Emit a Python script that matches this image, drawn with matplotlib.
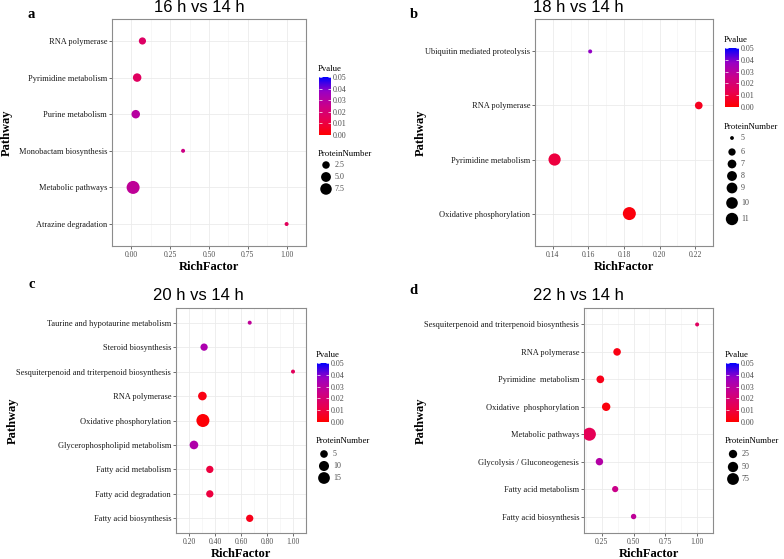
import numpy as np
import matplotlib
matplotlib.use("Agg")
import matplotlib.pyplot as plt
from matplotlib.colors import LinearSegmentedColormap, Normalize
from matplotlib.cm import ScalarMappable

plt.rcParams['font.family'] = ['Liberation Serif', 'DejaVu Serif']

# ---- data (pathways listed top to bottom) ----
a_pathways = ["RNA polymerase", "Pyrimidine metabolism", "Purine metabolism",
              "Monobactam biosynthesis", "Metabolic pathways", "Atrazine degradation"]
a_rich = [0.071, 0.037, 0.028, 0.333, 0.011, 1.0]
a_pval = [0.017, 0.016, 0.030, 0.024, 0.028, 0.015]
a_count = [2, 3, 3, 1, 9, 1]
a_breaks = [2.5, 5.0, 7.5]
a_xticks = [0.0, 0.25, 0.5, 0.75, 1.0]

b_pathways = ["Ubiquitin mediated proteolysis", "RNA polymerase",
              "Pyrimidine metabolism", "Oxidative phosphorylation"]
b_rich = [0.161, 0.222, 0.141, 0.183]
b_pval = [0.038, 0.005, 0.010, 0.002]
b_count = [5, 6, 10, 11]
b_breaks = [5, 6, 7, 8, 9, 10, 11]
b_xticks = [0.14, 0.16, 0.18, 0.20, 0.22]

c_pathways = ["Taurine and hypotaurine metabolism", "Steroid biosynthesis",
              "Sesquiterpenoid and triterpenoid biosynthesis", "RNA polymerase",
              "Oxidative phosphorylation", "Glycerophospholipid metabolism",
              "Fatty acid metabolism", "Fatty acid degradation", "Fatty acid biosynthesis"]
c_rich = [0.667, 0.316, 1.0, 0.303, 0.307, 0.238, 0.36, 0.36, 0.667]
c_pval = [0.028, 0.033, 0.015, 0.003, 0.001, 0.032, 0.010, 0.010, 0.004]
c_count = [2, 4, 2, 6, 17, 6, 4, 4, 4]
c_breaks = [5, 10, 15]
c_xticks = [0.2, 0.4, 0.6, 0.8, 1.0]

d_pathways = ["Sesquiterpenoid and triterpenoid biosynthesis", "RNA polymerase",
              "Pyrimidine  metabolism", "Oxidative  phosphorylation", "Metabolic pathways",
              "Glycolysis / Gluconeogenesis", "Fatty acid metabolism", "Fatty acid biosynthesis"]
d_rich = [1.0, 0.37, 0.238, 0.284, 0.152, 0.231, 0.355, 0.5]
d_pval = [0.016, 0.003, 0.004, 0.002, 0.014, 0.031, 0.025, 0.028]
d_count = [2, 15, 16, 22, 85, 14, 7, 4]
d_breaks = [25, 50, 75]
d_xticks = [0.25, 0.5, 0.75, 1.0]

# ggplot-like red -> blue gradient (Lab interpolation)
cmap = LinearSegmentedColormap.from_list(
    "pv", ["#FF0000", "#E8004F", "#CA0089", "#9A00C3", "#0000FF"])
norm = Normalize(0, 0.05)

W, H = 784, 559
fig = plt.figure(figsize=(W / 100, H / 100), dpi=100)

ov = fig.add_axes([0, 0, 1, 1])
ov.set_xlim(0, W)
ov.set_ylim(H, 0)
ov.axis('off')


def box(x0, y0, x1, y1):
    return [x0 / W, 1 - y1 / H, (x1 - x0) / W, (y1 - y0) / H]


def diam(v, vmin, vmax, dmin=4.0, dmax=13.0):
    f = np.clip((np.asarray(v, float) - vmin) / (vmax - vmin), 0, 1)
    return dmin + (dmax - dmin) * np.sqrt(f)


def area(d_px):
    return (d_px * 0.72) ** 2


def panel(letter, title, pathways, rich, pval, count, breaks, xticks, fmt,
          ax_box, cb_box, leg_y, letter_xy, title_xy, ylab_x, xlab_y):
    x0, y0, x1, y1 = ax_box
    ax = fig.add_axes(box(*ax_box))
    vmin, vmax = min(count), max(count)
    ax.scatter(rich, pathways, s=area(diam(count, vmin, vmax)),
               c=pval, cmap=cmap, norm=norm, edgecolors='none', zorder=3)
    n = len(pathways)
    ax.set_ylim(-0.6, n - 1 + 0.6)
    ax.invert_yaxis()
    lo, hi = min(rich), max(rich)
    pad = (hi - lo) * 0.05
    ax.set_xlim(lo - pad, hi + pad)
    ax.set_xticks(xticks)
    ax.set_xticklabels([fmt % t for t in xticks])
    step = xticks[1] - xticks[0]
    minors = [t - step / 2 for t in xticks] + [xticks[-1] + step / 2]
    ax.set_xticks(minors, minor=True)
    ax.grid(True, which='major', color='#EBEBEB', lw=0.6, zorder=0)
    ax.grid(True, which='minor', axis='x', color='#F2F2F2', lw=0.4, zorder=0)
    ax.tick_params(axis='both', which='major', length=2, width=0.5,
                   color='#333333', pad=1.5)
    ax.tick_params(axis='x', which='major', labelsize=5.5, labelcolor='#4D4D4D')
    ax.tick_params(axis='y', labelsize=6, labelcolor='#1A1A1A')
    ax.tick_params(which='minor', length=0)
    for sp in ax.spines.values():
        sp.set_color('#8C8C8C')
        sp.set_linewidth(0.8)

    # texts
    ov.text(*letter_xy, letter, fontsize=10.5, fontweight='bold', ha='center', va='center')
    ov.text(*title_xy, title, fontsize=12, family='Liberation Sans', ha='center', va='center')
    ov.text(ylab_x, (y0 + y1) / 2, "Pathway", rotation=90, fontsize=9,
            fontweight='bold', ha='center', va='center')
    ov.text((x0 + x1) / 2, xlab_y, "RichFactor", fontsize=9, fontweight='bold',
            ha='center', va='center')

    # colour bar
    cx0, cy0, cx1, cy1 = cb_box
    cax = fig.add_axes(box(*cb_box))
    cb = fig.colorbar(ScalarMappable(norm=norm, cmap=cmap), cax=cax)
    cb.outline.set_visible(False)
    cb.set_ticks([0, 0.01, 0.02, 0.03, 0.04, 0.05])
    cb.set_ticklabels(["0.00", "0.01", "0.02", "0.03", "0.04", "0.05"])
    cax.yaxis.set_ticks_position('both')
    cax.tick_params(direction='in', length=2.5, width=0.5, color='white',
                    labelsize=5.8, labelcolor='#4D4D4D', pad=1.5,
                    left=True, right=True, labelleft=False, labelright=True)
    ov.text(cx0 - 1, cy0 - 8, "Pvalue", fontsize=6.3, ha='left', va='center')

    # size legend
    ov.text(cx0 - 1, leg_y[0], "ProteinNumber", fontsize=6.3, ha='left', va='center')
    lx = cx0 + 7
    for b, yy in zip(breaks, leg_y[1:]):
        d = float(diam(b, vmin, vmax)) * 0.95
        ov.scatter([lx], [yy], s=area(d), color='black', edgecolors='none')
        ov.text(lx + 9, yy, ("%.1f" % b) if isinstance(b, float) else str(b),
                fontsize=5.8, color='#4D4D4D', ha='left', va='center')


panel("a", "16 h vs 14 h", a_pathways, a_rich, a_pval, a_count, a_breaks, a_xticks, "%.2f",
      (112, 19, 306, 246), (319, 77, 331, 135), [154, 165, 177, 189],
      (31, 14), (199, 8), 7, 267)
panel("b", "18 h vs 14 h", b_pathways, b_rich, b_pval, b_count, b_breaks, b_xticks, "%.2f",
      (535, 19, 713, 246), (725, 48, 739, 107), [127, 138, 152, 164, 176, 188, 203, 219],
      (414, 14), (578, 8), 421, 267)
panel("c", "20 h vs 14 h", c_pathways, c_rich, c_pval, c_count, c_breaks, c_xticks, "%.2f",
      (176, 308, 306, 533), (317, 363, 329, 422), [441, 454, 466, 478],
      (32, 285), (198, 296), 13, 554)
panel("d", "22 h vs 14 h", d_pathways, d_rich, d_pval, d_count, d_breaks, d_xticks, "%.2f",
      (584, 308, 713, 533), (726, 363, 739, 422), [441, 454, 467, 479],
      (413, 290), (578, 296), 421, 554)

fig.savefig("out.png", dpi=100)
